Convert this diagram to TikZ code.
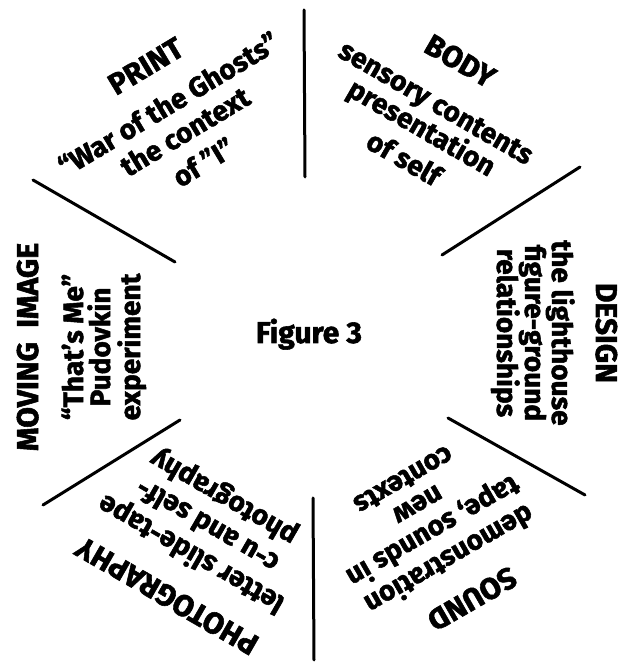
\documentclass[tikz,border=0pt]{standalone}
\usepackage{fontspec}
\newfontfamily\heavyfont{Fira Sans Bold}[FakeBold=1.8]
\begin{document}
\begin{tikzpicture}[x=1pt,y=1pt,
  sep/.style={line width=3pt, line cap=round},
  ttl/.style={font=\heavyfont\fontsize{30}{30}\selectfont, anchor=base, inner sep=0pt, transform shape},
  txt/.style={font=\heavyfont\fontsize{28}{28}\selectfont, anchor=base, inner sep=0pt, transform shape}]
\useasboundingbox (0,0) rectangle (625,662);
% separators
\draw[sep] (304,652) -- (305,485);
\draw[sep] (33,482) -- (175,400);
\draw[sep] (580,495) -- (442,407);
\draw[sep] (43,157) -- (180,242);
\draw[sep] (448,244) -- (585,167);
\draw[sep] (313,164) -- (314,2);
% centre
\node[font=\heavyfont\fontsize{30}{30}\selectfont, anchor=base, inner sep=0pt] (fig) at (309,319) {Figure 3};
% PRINT
\begin{scope}[shift={(151,587)}, rotate=31]
\node[ttl] (printT) at (0,0) {PRINT};
\node[txt] (print1) at (0,-44) {“War of the Ghosts”};
\node[txt] (print2) at (0,-76) {the context};
\node[txt] (print3) at (0,-112) {of ”I”};
\end{scope}
% BODY
\begin{scope}[shift={(455,592)}, rotate=-30]
\node[ttl] (bodyT) at (0,0) {BODY};
\node[txt] (body1) at (0,-47) {sensory contents};
\node[txt] (body2) at (0,-76) {presentation};
\node[txt] (body3) at (0,-112) {of self};
\end{scope}
% DESIGN
\begin{scope}[shift={(596,329)}, rotate=-90]
\node[ttl] (designT) at (0,0) {DESIGN};
\node[txt] (design1) at (0,-44) {the lighthouse};
\node[txt] (design2) at (0,-71) {figure-ground};
\node[txt] (design3) at (0,-99) {relationships};
\end{scope}
% SOUND
\begin{scope}[shift={(467,72)}, rotate=210]
\node[ttl] (soundT) at (0,0) {SOUND};
\node[txt] (sound1) at (0,-45) {demonstration};
\node[txt] (sound2) at (0,-77) {tape, sounds in};
\node[txt] (sound3) at (0,-107) {new};
\node[txt] (sound4) at (0,-136) {contexts};
\end{scope}
% PHOTOGRAPHY
\begin{scope}[shift={(172,75)}, rotate=150]
\node[ttl] (photoT) at (0,0) {PHOTOGRAPHY};
\node[txt] (photo1) at (0,-47) {letter slide-tape};
\node[txt] (photo2) at (0,-80) {c-u and self-};
\node[txt] (photo3) at (0,-112) {photography};
\end{scope}
% MOVING IMAGE
\begin{scope}[shift={(38,315)}, rotate=90]
\node[ttl] (movT) at (0,0) {MOVING\ \ IMAGE};
\node[txt] (mov1) at (0,-45) {“That’s Me”};
\node[txt] (mov2) at (0,-72) {Pudovkin};
\node[txt] (mov3) at (0,-102) {experiment};
\end{scope}
\end{tikzpicture}
\end{document}
